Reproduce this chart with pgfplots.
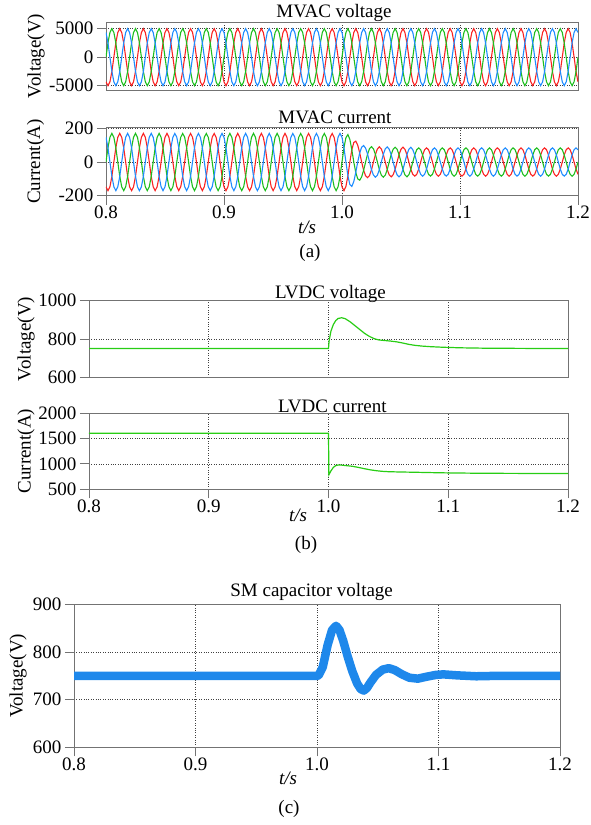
\documentclass[border=0pt]{standalone}
\usepackage{fontspec}
\setmainfont{Liberation Serif}
\usepackage{pgfplots}
\usepackage{pgfplotstable}
\pgfplotsset{compat=1.18}
\definecolor{cr}{RGB}{250,35,35}
\definecolor{cb}{RGB}{30,140,255}
\definecolor{cg}{RGB}{30,190,30}
\definecolor{lg}{RGB}{40,205,20}
\definecolor{smb}{RGB}{30,136,235}
\definecolor{axc}{RGB}{115,115,115}
\newcommand{\ff}{\fontsize{19}{21}\selectfont}

\pgfplotstableread{
t vr vb vg ir ib ig
0.80000 -4330 4330 0 -147 147 0
0.80167 -5000 2500 2500 -170 85 85
0.80333 -4330 0 4330 -147 0 147
0.80500 -2500 -2500 5000 -85 -85 170
0.80667 0 -4330 4330 0 -147 147
0.80833 2500 -5000 2500 85 -170 85
0.81000 4330 -4330 0 147 -147 0
0.81167 5000 -2500 -2500 170 -85 -85
0.81333 4330 0 -4330 147 0 -147
0.81500 2500 2500 -5000 85 85 -170
0.81667 0 4330 -4330 0 147 -147
0.81833 -2500 5000 -2500 -85 170 -85
0.82000 -4330 4330 0 -147 147 0
0.82167 -5000 2500 2500 -170 85 85
0.82333 -4330 0 4330 -147 0 147
0.82500 -2500 -2500 5000 -85 -85 170
0.82667 0 -4330 4330 0 -147 147
0.82833 2500 -5000 2500 85 -170 85
0.83000 4330 -4330 0 147 -147 0
0.83167 5000 -2500 -2500 170 -85 -85
0.83333 4330 0 -4330 147 0 -147
0.83500 2500 2500 -5000 85 85 -170
0.83667 0 4330 -4330 0 147 -147
0.83833 -2500 5000 -2500 -85 170 -85
0.84000 -4330 4330 0 -147 147 0
0.84167 -5000 2500 2500 -170 85 85
0.84333 -4330 0 4330 -147 0 147
0.84500 -2500 -2500 5000 -85 -85 170
0.84667 0 -4330 4330 0 -147 147
0.84833 2500 -5000 2500 85 -170 85
0.85000 4330 -4330 0 147 -147 0
0.85167 5000 -2500 -2500 170 -85 -85
0.85333 4330 0 -4330 147 0 -147
0.85500 2500 2500 -5000 85 85 -170
0.85667 0 4330 -4330 0 147 -147
0.85833 -2500 5000 -2500 -85 170 -85
0.86000 -4330 4330 0 -147 147 0
0.86167 -5000 2500 2500 -170 85 85
0.86333 -4330 0 4330 -147 0 147
0.86500 -2500 -2500 5000 -85 -85 170
0.86667 0 -4330 4330 0 -147 147
0.86833 2500 -5000 2500 85 -170 85
0.87000 4330 -4330 0 147 -147 0
0.87167 5000 -2500 -2500 170 -85 -85
0.87333 4330 0 -4330 147 0 -147
0.87500 2500 2500 -5000 85 85 -170
0.87667 0 4330 -4330 0 147 -147
0.87833 -2500 5000 -2500 -85 170 -85
0.88000 -4330 4330 0 -147 147 0
0.88167 -5000 2500 2500 -170 85 85
0.88333 -4330 0 4330 -147 0 147
0.88500 -2500 -2500 5000 -85 -85 170
0.88667 0 -4330 4330 0 -147 147
0.88833 2500 -5000 2500 85 -170 85
0.89000 4330 -4330 0 147 -147 0
0.89167 5000 -2500 -2500 170 -85 -85
0.89333 4330 0 -4330 147 0 -147
0.89500 2500 2500 -5000 85 85 -170
0.89667 0 4330 -4330 0 147 -147
0.89833 -2500 5000 -2500 -85 170 -85
0.90000 -4330 4330 0 -147 147 0
0.90167 -5000 2500 2500 -170 85 85
0.90333 -4330 0 4330 -147 0 147
0.90500 -2500 -2500 5000 -85 -85 170
0.90667 0 -4330 4330 0 -147 147
0.90833 2500 -5000 2500 85 -170 85
0.91000 4330 -4330 0 147 -147 0
0.91167 5000 -2500 -2500 170 -85 -85
0.91333 4330 0 -4330 147 0 -147
0.91500 2500 2500 -5000 85 85 -170
0.91667 0 4330 -4330 0 147 -147
0.91833 -2500 5000 -2500 -85 170 -85
0.92000 -4330 4330 0 -147 147 0
0.92167 -5000 2500 2500 -170 85 85
0.92333 -4330 0 4330 -147 0 147
0.92500 -2500 -2500 5000 -85 -85 170
0.92667 0 -4330 4330 0 -147 147
0.92833 2500 -5000 2500 85 -170 85
0.93000 4330 -4330 0 147 -147 0
0.93167 5000 -2500 -2500 170 -85 -85
0.93333 4330 0 -4330 147 0 -147
0.93500 2500 2500 -5000 85 85 -170
0.93667 0 4330 -4330 0 147 -147
0.93833 -2500 5000 -2500 -85 170 -85
0.94000 -4330 4330 0 -147 147 0
0.94167 -5000 2500 2500 -170 85 85
0.94333 -4330 0 4330 -147 0 147
0.94500 -2500 -2500 5000 -85 -85 170
0.94667 0 -4330 4330 0 -147 147
0.94833 2500 -5000 2500 85 -170 85
0.95000 4330 -4330 0 147 -147 0
0.95167 5000 -2500 -2500 170 -85 -85
0.95333 4330 0 -4330 147 0 -147
0.95500 2500 2500 -5000 85 85 -170
0.95667 0 4330 -4330 0 147 -147
0.95833 -2500 5000 -2500 -85 170 -85
0.96000 -4330 4330 0 -147 147 0
0.96167 -5000 2500 2500 -170 85 85
0.96333 -4330 0 4330 -147 0 147
0.96500 -2500 -2500 5000 -85 -85 170
0.96667 0 -4330 4330 0 -147 147
0.96833 2500 -5000 2500 85 -170 85
0.97000 4330 -4330 0 147 -147 0
0.97167 5000 -2500 -2500 170 -85 -85
0.97333 4330 0 -4330 147 0 -147
0.97500 2500 2500 -5000 85 85 -170
0.97667 0 4330 -4330 0 147 -147
0.97833 -2500 5000 -2500 -85 170 -85
0.98000 -4330 4330 0 -147 147 0
0.98167 -5000 2500 2500 -170 85 85
0.98333 -4330 0 4330 -147 0 147
0.98500 -2500 -2500 5000 -85 -85 170
0.98667 0 -4330 4330 0 -147 147
0.98833 2500 -5000 2500 85 -170 85
0.99000 4330 -4330 0 147 -147 0
0.99167 5000 -2500 -2500 170 -85 -85
0.99333 4330 0 -4330 147 0 -147
0.99500 2500 2500 -5000 85 85 -170
0.99667 0 4330 -4330 0 147 -147
0.99833 -2500 5000 -2500 -85 170 -85
1.00000 -4330 4330 0 -147 147 0
1.00167 -5000 2500 2500 -170 85 85
1.00333 -4330 0 4330 -145 0 145
1.00500 -2500 -2500 5000 -82 -82 163
1.00667 0 -4330 4330 0 -134 134
1.00833 2500 -5000 2500 73 -145 73
1.01000 4330 -4330 0 116 -116 0
1.01167 5000 -2500 -2500 124 -62 -62
1.01333 4330 0 -4330 100 0 -100
1.01500 2500 2500 -5000 54 54 -108
1.01667 0 4330 -4330 0 88 -88
1.01833 -2500 5000 -2500 -49 98 -49
1.02000 -4330 4330 0 -82 82 0
1.02167 -5000 2500 2500 -93 47 47
1.02333 -4330 0 4330 -80 0 80
1.02500 -2500 -2500 5000 -46 -46 91
1.02667 0 -4330 4330 0 -78 78
1.02833 2500 -5000 2500 45 -90 45
1.03000 4330 -4330 0 78 -78 0
1.03167 5000 -2500 -2500 90 -45 -45
1.03333 4330 0 -4330 78 0 -78
1.03500 2500 2500 -5000 45 45 -90
1.03667 0 4330 -4330 0 78 -78
1.03833 -2500 5000 -2500 -45 90 -45
1.04000 -4330 4330 0 -76 76 0
1.04167 -5000 2500 2500 -88 44 44
1.04333 -4330 0 4330 -76 0 76
1.04500 -2500 -2500 5000 -44 -44 88
1.04667 0 -4330 4330 0 -76 76
1.04833 2500 -5000 2500 44 -88 44
1.05000 4330 -4330 0 76 -76 0
1.05167 5000 -2500 -2500 88 -44 -44
1.05333 4330 0 -4330 76 0 -76
1.05500 2500 2500 -5000 44 44 -88
1.05667 0 4330 -4330 0 76 -76
1.05833 -2500 5000 -2500 -44 88 -44
1.06000 -4330 4330 0 -73 73 0
1.06167 -5000 2500 2500 -84 42 42
1.06333 -4330 0 4330 -73 0 73
1.06500 -2500 -2500 5000 -42 -42 84
1.06667 0 -4330 4330 0 -73 73
1.06833 2500 -5000 2500 42 -84 42
1.07000 4330 -4330 0 73 -73 0
1.07167 5000 -2500 -2500 84 -42 -42
1.07333 4330 0 -4330 73 0 -73
1.07500 2500 2500 -5000 42 42 -84
1.07667 0 4330 -4330 0 73 -73
1.07833 -2500 5000 -2500 -42 84 -42
1.08000 -4330 4330 0 -73 73 0
1.08167 -5000 2500 2500 -84 42 42
1.08333 -4330 0 4330 -73 0 73
1.08500 -2500 -2500 5000 -42 -42 84
1.08667 0 -4330 4330 0 -73 73
1.08833 2500 -5000 2500 42 -84 42
1.09000 4330 -4330 0 73 -73 0
1.09167 5000 -2500 -2500 84 -42 -42
1.09333 4330 0 -4330 73 0 -73
1.09500 2500 2500 -5000 42 42 -84
1.09667 0 4330 -4330 0 73 -73
1.09833 -2500 5000 -2500 -42 84 -42
1.10000 -4330 4330 0 -73 73 0
1.10167 -5000 2500 2500 -84 42 42
1.10333 -4330 0 4330 -73 0 73
1.10500 -2500 -2500 5000 -42 -42 84
1.10667 0 -4330 4330 0 -73 73
1.10833 2500 -5000 2500 42 -84 42
1.11000 4330 -4330 0 73 -73 0
1.11167 5000 -2500 -2500 84 -42 -42
1.11333 4330 0 -4330 73 0 -73
1.11500 2500 2500 -5000 42 42 -84
1.11667 0 4330 -4330 0 73 -73
1.11833 -2500 5000 -2500 -42 84 -42
1.12000 -4330 4330 0 -73 73 0
1.12167 -5000 2500 2500 -84 42 42
1.12333 -4330 0 4330 -73 0 73
1.12500 -2500 -2500 5000 -42 -42 84
1.12667 0 -4330 4330 0 -73 73
1.12833 2500 -5000 2500 42 -84 42
1.13000 4330 -4330 0 73 -73 0
1.13167 5000 -2500 -2500 84 -42 -42
1.13333 4330 0 -4330 73 0 -73
1.13500 2500 2500 -5000 42 42 -84
1.13667 0 4330 -4330 0 73 -73
1.13833 -2500 5000 -2500 -42 84 -42
1.14000 -4330 4330 0 -73 73 0
1.14167 -5000 2500 2500 -84 42 42
1.14333 -4330 0 4330 -73 0 73
1.14500 -2500 -2500 5000 -42 -42 84
1.14667 0 -4330 4330 0 -73 73
1.14833 2500 -5000 2500 42 -84 42
1.15000 4330 -4330 0 73 -73 0
1.15167 5000 -2500 -2500 84 -42 -42
1.15333 4330 0 -4330 73 0 -73
1.15500 2500 2500 -5000 42 42 -84
1.15667 0 4330 -4330 0 73 -73
1.15833 -2500 5000 -2500 -42 84 -42
1.16000 -4330 4330 0 -73 73 0
1.16167 -5000 2500 2500 -84 42 42
1.16333 -4330 0 4330 -73 0 73
1.16500 -2500 -2500 5000 -42 -42 84
1.16667 0 -4330 4330 0 -73 73
1.16833 2500 -5000 2500 42 -84 42
1.17000 4330 -4330 0 73 -73 0
1.17167 5000 -2500 -2500 84 -42 -42
1.17333 4330 0 -4330 73 0 -73
1.17500 2500 2500 -5000 42 42 -84
1.17667 0 4330 -4330 0 73 -73
1.17833 -2500 5000 -2500 -42 84 -42
1.18000 -4330 4330 0 -73 73 0
1.18167 -5000 2500 2500 -84 42 42
1.18333 -4330 0 4330 -73 0 73
1.18500 -2500 -2500 5000 -42 -42 84
1.18667 0 -4330 4330 0 -73 73
1.18833 2500 -5000 2500 42 -84 42
1.19000 4330 -4330 0 73 -73 0
1.19167 5000 -2500 -2500 84 -42 -42
1.19333 4330 0 -4330 73 0 -73
1.19500 2500 2500 -5000 42 42 -84
1.19667 0 4330 -4330 0 73 -73
1.19833 -2500 5000 -2500 -42 84 -42
1.20000 -4330 4330 0 -73 73 0
}\actab

\pgfplotstableread{
t v
0.8 750
1.0 750
1.0005 790
1.002 840
1.004 875
1.006 896
1.008 907
1.011 911
1.014 906
1.018 890
1.022 870
1.026 850
1.030 830
1.034 814
1.038 802
1.042 795
1.047 792
1.052 789
1.057 785
1.062 779
1.067 772
1.072 767
1.078 763
1.085 760
1.095 757
1.11 754
1.13 752
1.16 751
1.2 750
}\lvdcv

\pgfplotstableread{
t i
0.8 1600
1.0 1600
1.0003 785
1.002 860
1.004 930
1.006 965
1.008 978
1.011 975
1.015 965
1.02 952
1.025 930
1.03 905
1.035 882
1.04 865
1.045 853
1.05 846
1.06 840
1.07 836
1.08 831
1.09 826
1.1 822
1.12 817
1.15 813
1.2 810
}\lvdci

\pgfplotstableread{
t v
0.8 750
1.0 750
1.0014 751
1.0047 768
1.0088 815
1.0124 846
1.0157 855
1.0185 846
1.0215 824
1.0253 790
1.0290 760
1.0330 734
1.0360 722
1.0385 719
1.0410 724
1.0440 736
1.0486 752
1.0541 763
1.0591 766
1.0640 762
1.0700 753
1.0760 746
1.0830 744
1.0900 748
1.0981 752
1.1040 753
1.1150 751
1.1310 749
1.15 750
1.2 750
}\smv

\pgfplotsset{
  base/.style={
    scale only axis, anchor=south west,
    xmin=0.8, xmax=1.2,
    axis line style={draw=axc, line width=0.9pt},
    tick style={draw=axc, line width=0.9pt},
    tick align=outside, major tick length=9pt,
    ytick pos=left, xtick pos=bottom,
    grid=major,
    major grid style={dotted, draw=black!75, line width=0.7pt},
    /pgf/number format/assume math mode=true,
    tick label style={font=\ff},
    label style={font=\ff},
    every axis title shift=0pt,
    title style={font=\ff, anchor=base},
    ylabel style={anchor=center},
    xtick={0.8,0.9,1.0,1.1,1.2},
    xticklabels={0.8,0.9,1.0,1.1,1.2},
    xticklabel style={yshift=2pt},
  },
  nox/.style={xticklabels={}, xtick style={draw=none}},
}

\begin{document}
\begin{tikzpicture}
\useasboundingbox (0pt,0pt) rectangle (591pt,825pt);

% (a) MVAC voltage
\begin{axis}[base, nox, at={(106pt,735pt)}, width=472pt, height=68pt,
  ymin=-5760, ymax=6170, ytick={-5000,0,5000}, yticklabels={-5000,0,5000},
  ylabel={Voltage(V)}, ylabel style={at={(axis description cs:-0.148,0.5)}},
  title={MVAC voltage}, title style={at={(axis description cs:0.483,1)}, yshift=4pt}]
\addplot[cr, line width=1.1pt] table[x=t, y=vr] {\actab};
\addplot[cg, line width=1.1pt] table[x=t, y=vg] {\actab};
\addplot[cb, line width=1.1pt] table[x=t, y=vb] {\actab};
\end{axis}

% (a) MVAC current
\begin{axis}[base, at={(106pt,629.3pt)}, width=472pt, height=68pt,
  ymin=-200, ymax=204, ytick={-200,0,200}, yticklabels={-200,0,200},
  ylabel={Current(A)}, ylabel style={at={(axis description cs:-0.149,0.5)}},
  title={MVAC current}, title style={at={(axis description cs:0.485,1)}, yshift=4.4pt}]
\addplot[cr, line width=1.1pt] table[x=t, y=ir] {\actab};
\addplot[cg, line width=1.1pt] table[x=t, y=ig] {\actab};
\addplot[cb, line width=1.1pt] table[x=t, y=ib] {\actab};
\end{axis}

% (b) LVDC voltage
\begin{axis}[base, nox, at={(89pt,447.7pt)}, width=479pt, height=76.6pt,
  ymin=600, ymax=1000, ytick={600,800,1000}, yticklabels={600,800,1000},
  ylabel={Voltage(V)}, ylabel style={at={(axis description cs:-0.1315,0.5)}},
  title={LVDC voltage}, title style={at={(axis description cs:0.504,1)}, yshift=2.4pt}]
\addplot[lg, line width=1.2pt] table[x=t, y=v] {\lvdcv};
\end{axis}

% (b) LVDC current
\begin{axis}[base, at={(89pt,335.7pt)}, width=479pt, height=76.3pt,
  ymin=500, ymax=2000, ytick={500,1000,1500,2000}, yticklabels={500,1000,1500,2000},
  ylabel={Current(A)}, ylabel style={at={(axis description cs:-0.1315,0.5)}},
  title={LVDC current}, title style={at={(axis description cs:0.508,1)}, yshift=0.3pt}]
\addplot[lg, line width=1.2pt] table[x=t, y=i] {\lvdci};
\end{axis}

% (c) SM capacitor voltage
\begin{axis}[base, at={(74pt,77.7pt)}, width=486pt, height=143pt,
  ymin=600, ymax=900, ytick={600,700,800,900}, yticklabels={600,700,800,900},
  ylabel={Voltage(V)}, ylabel style={at={(axis description cs:-0.115,0.5)}},
  title={SM capacitor voltage}, title style={at={(axis description cs:0.489,1)}, yshift=7.6pt}]
\addplot[smb, line width=8.5pt, line join=round] table[x=t, y=v] {\smv};
\end{axis}

\node[font=\ff\itshape] at (307pt,598pt) {t/s};
\node[font=\ff] at (310pt,572pt) {(a)};
\node[font=\ff\itshape] at (298pt,310pt) {t/s};
\node[font=\ff] at (306pt,280pt) {(b)};
\node[font=\ff\itshape] at (288pt,47pt) {t/s};
\node[font=\ff] at (289pt,16pt) {(c)};
\end{tikzpicture}
\end{document}
